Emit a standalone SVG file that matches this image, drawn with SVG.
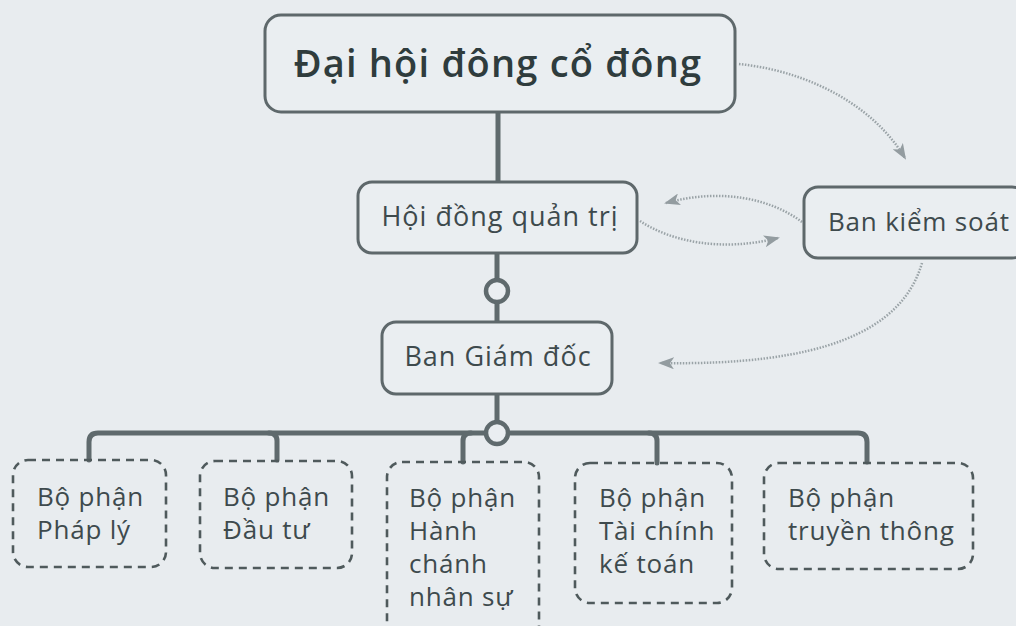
<svg xmlns="http://www.w3.org/2000/svg" width="1016" height="626" viewBox="0 0 1016 626">
<defs>
<style>
.bg{fill:#e8ecef}
.box{fill:#eaeef1;stroke:#5e686b;stroke-width:3}
.dbox{fill:none;stroke:#4f5a5c;stroke-width:2.6;stroke-dasharray:8 6}
.t{font-family:"Open Sans",Lato,"DejaVu Sans",sans-serif;font-size:26px;letter-spacing:0.8px;fill:#3e4a4d}
.m{font-size:27px;letter-spacing:1px}
.title{font-family:"Open Sans",Lato,"DejaVu Sans",sans-serif;font-size:38px;font-weight:600;letter-spacing:1.2px;fill:#2f3c3d}
.bar{fill:none;stroke:#5f6a6d;stroke-width:5;stroke-linecap:round}
.ring{fill:#eaeef1;stroke:#5f6a6d;stroke-width:4.5}
.dot{fill:none;stroke:#9aa3a7;stroke-width:2.5;stroke-dasharray:1.5 1.5}
</style>
<marker id="ah" viewBox="0 0 16 12" refX="14" refY="6" markerWidth="16" markerHeight="12" markerUnits="userSpaceOnUse" orient="auto">
<path d="M0,0 L16,6 L0,12 L4,6 Z" fill="#939ca0"/>
</marker>
</defs>
<rect class="bg" x="0" y="0" width="1016" height="626"/>

<g id="connectors">
<path class="bar" d="M498,112 L498,182"/>
<path class="bar" d="M497,253 L497,322"/>
<path class="bar" d="M497,394 L497,433"/>
<path class="bar" d="M89,460 L89,442 Q89,433 98,433 L858,433 Q867,433 867,442 L867,462"/>
<path class="bar" d="M269,433 Q277,433 277,441 L277,460"/>
<path class="bar" d="M471,433 Q463,433 463,441 L463,462"/>
<path class="bar" d="M649,433 Q657,433 657,441 L657,463"/>
<circle class="ring" cx="497" cy="291" r="11"/>
<circle class="ring" cx="497" cy="433" r="11"/>
<path class="dot" d="M739,64 C800,70 870,100 905,158" marker-end="url(#ah)"/>
<path class="dot" d="M802,222 C770,198 720,188 666,203" marker-end="url(#ah)"/>
<path class="dot" d="M640,221 C672,242 722,252 778,238" marker-end="url(#ah)"/>
<path class="dot" d="M922,263 C902,332 820,366 660,363" marker-end="url(#ah)"/>
</g>

<g id="n-dhdcd">
<rect class="box" x="265" y="15" width="470" height="97" rx="16"/>
<text class="title" x="498" y="77" text-anchor="middle">Đại hội đông cổ đông</text>
</g>

<g id="n-hdqt">
<rect class="box" x="358" y="182" width="279" height="71" rx="14"/>
<text class="t m" x="500" y="226" text-anchor="middle">Hội đồng quản trị</text>
</g>

<g id="n-bks">
<rect class="box" x="804" y="187" width="222" height="71" rx="14"/>
<text class="t" x="828" y="231">Ban kiểm soát</text>
</g>

<g id="n-bgd">
<rect class="box" x="382" y="322" width="230" height="72" rx="14"/>
<text class="t m" x="498" y="366" text-anchor="middle">Ban Giám đốc</text>
</g>

<g id="n-phaply">
<rect class="dbox" x="13" y="460" width="153" height="107" rx="15"/>
<text class="t" x="37" y="506">Bộ phận</text>
<text class="t" x="37" y="539">Pháp lý</text>
</g>

<g id="n-dautu">
<rect class="dbox" x="200" y="461" width="152" height="107" rx="15"/>
<text class="t" x="223" y="506">Bộ phận</text>
<text class="t" x="223" y="539">Đầu tư</text>
</g>

<g id="n-hcns">
<rect class="dbox" x="387" y="462" width="152" height="190" rx="15"/>
<text class="t" x="409" y="507">Bộ phận</text>
<text class="t" x="409" y="540">Hành</text>
<text class="t" x="409" y="573">chánh</text>
<text class="t" x="409" y="606">nhân sự</text>
</g>

<g id="n-tckt">
<rect class="dbox" x="575" y="463" width="157" height="140" rx="15"/>
<text class="t" x="599" y="507">Bộ phận</text>
<text class="t" x="599" y="540">Tài chính</text>
<text class="t" x="599" y="573">kế toán</text>
</g>

<g id="n-tt">
<rect class="dbox" x="764" y="463" width="209" height="106" rx="15"/>
<text class="t" x="788" y="507">Bộ phận</text>
<text class="t" x="788" y="540">truyền thông</text>
</g>
</svg>
